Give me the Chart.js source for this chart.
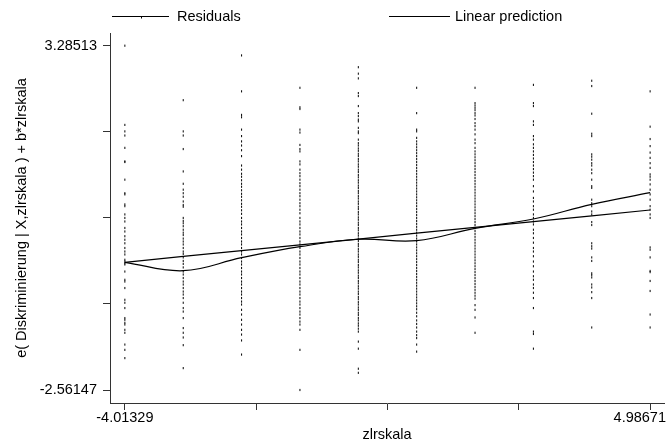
<!DOCTYPE html>
<html>
<head>
<meta charset="utf-8">
<script src="https://cdn.jsdelivr.net/npm/chart.js@4.4.1/dist/chart.umd.min.js"></script>
<style>
  html, body { margin: 0; padding: 0; background: #fff; }
  #wrap { width: 669px; height: 441px; }
</style>
</head>
<body>
<div id="wrap"><canvas id="c" width="669" height="441"></canvas></div>
<script>
// ---- data ----
const xCategories = [-4.01329, -3.01329, -2.01329, -1.01329, -0.01329, 0.98671, 1.98671, 2.98671, 3.98671, 4.98671];

const res1 = [3.28513, 1.94, 1.83, 1.76, 1.55, 1.32, 1.31, 1.01, 0.78, 0.76, 0.59, 0.56, 0.42, 0.36, 0.30, 0.19, 0.13, 0.05, -0.01, -0.07, -0.15, -0.21, -0.26, -0.35, -0.38, -0.41, -0.43, -0.55, -0.69, -0.72, -0.83, -1.03, -1.08, -1.17, -1.34, -1.37, -1.42, -1.45, -1.54, -1.59, -1.79, -1.88, -2.02];
const res2 = [2.36, 1.83, 1.76, 1.53, 1.15, 0.94, 0.84, 0.78, 0.72, 0.64, 0.58, 0.55, 0.36, 0.31, 0.27, 0.22, 0.16, 0.11, 0.07, 0.01, -0.04, -0.09, -0.15, -0.21, -0.25, -0.31, -0.37, -0.42, -0.48, -0.55, -0.60, -0.66, -0.72, -0.77, -0.83, -0.89, -0.94, -1.00, -1.08, -1.17, -1.23, -1.34, -1.51, -1.59, -1.67, -1.80, -2.19];
const res3 = [3.12, 2.51, 2.11, 2.07, 1.86, 1.75, 1.66, 1.59, 1.51, 1.41, 1.25, 1.18, 1.11, 1.06, 1.00, 0.94, 0.89, 0.83, 0.77, 0.72, 0.66, 0.60, 0.55, 0.49, 0.43, 0.36, 0.30, 0.25, 0.19, 0.13, 0.08, 0.02, -0.04, -0.09, -0.15, -0.21, -0.26, -0.32, -0.38, -0.43, -0.49, -0.55, -0.60, -0.66, -0.72, -0.77, -0.83, -0.89, -0.94, -1.00, -1.06, -1.11, -1.20, -1.28, -1.37, -1.45, -1.54, -1.62, -1.72, -1.96];
const res4 = [2.57, 2.24, 2.21, 1.86, 1.81, 1.60, 1.53, 1.49, 1.32, 1.27, 1.18, 1.12, 1.07, 1.01, 0.95, 0.90, 0.84, 0.78, 0.73, 0.67, 0.61, 0.56, 0.50, 0.44, 0.36, 0.30, 0.25, 0.19, 0.13, 0.08, 0.02, -0.04, -0.09, -0.15, -0.21, -0.26, -0.32, -0.38, -0.43, -0.49, -0.55, -0.60, -0.66, -0.72, -0.77, -0.83, -0.89, -0.94, -1.00, -1.06, -1.11, -1.17, -1.23, -1.28, -1.34, -1.40, -1.45, -1.54, -1.88, -2.56147];
const res5 = [2.92, 2.81, 2.73, 2.48, 2.43, 2.26, 2.14, 2.09, 2.03, 2.00, 1.89, 1.83, 1.80, 1.69, 1.63, 1.59, 1.54, 1.50, 1.45, 1.41, 1.36, 1.32, 1.27, 1.23, 1.18, 1.14, 1.09, 1.05, 1.00, 0.96, 0.91, 0.87, 0.82, 0.78, 0.73, 0.69, 0.64, 0.60, 0.55, 0.51, 0.46, 0.42, 0.37, 0.33, 0.28, 0.24, 0.19, 0.15, 0.10, 0.06, 0.01, -0.03, -0.08, -0.12, -0.17, -0.21, -0.26, -0.30, -0.35, -0.39, -0.44, -0.48, -0.53, -0.57, -0.62, -0.66, -0.71, -0.75, -0.80, -0.84, -0.89, -0.93, -0.98, -1.02, -1.07, -1.11, -1.16, -1.20, -1.25, -1.29, -1.34, -1.38, -1.43, -1.47, -1.52, -1.57, -1.74, -1.86, -2.20, -2.27];
const res6 = [2.57, 2.14, 1.86, 1.83, 1.72, 1.66, 1.61, 1.56, 1.51, 1.46, 1.41, 1.36, 1.31, 1.26, 1.21, 1.16, 1.11, 1.06, 1.01, 0.96, 0.91, 0.86, 0.81, 0.76, 0.71, 0.66, 0.61, 0.56, 0.51, 0.46, 0.41, 0.36, 0.31, 0.26, 0.21, 0.16, 0.11, 0.06, 0.01, -0.04, -0.09, -0.14, -0.19, -0.24, -0.29, -0.34, -0.39, -0.44, -0.49, -0.54, -0.59, -0.64, -0.69, -0.74, -0.79, -0.84, -0.89, -0.94, -0.99, -1.04, -1.09, -1.14, -1.19, -1.25, -1.31, -1.38, -1.44, -1.50, -1.57, -1.63, -1.68, -1.79, -1.91];
const res7 = [2.57, 2.31, 2.27, 2.23, 2.19, 2.14, 2.10, 2.04, 1.97, 1.92, 1.86, 1.78, 1.69, 1.63, 1.55, 1.49, 1.44, 1.39, 1.34, 1.29, 1.24, 1.19, 1.14, 1.09, 1.04, 0.99, 0.94, 0.89, 0.84, 0.79, 0.74, 0.69, 0.64, 0.59, 0.54, 0.49, 0.44, 0.39, 0.34, 0.29, 0.24, 0.19, 0.14, 0.09, 0.04, -0.01, -0.06, -0.11, -0.16, -0.21, -0.26, -0.31, -0.36, -0.41, -0.46, -0.51, -0.56, -0.61, -0.66, -0.71, -0.76, -0.81, -0.86, -0.91, -0.96, -1.01, -1.12, -1.20, -1.33, -1.59];
const res8 = [2.62, 2.31, 2.26, 2.00, 1.94, 1.75, 1.69, 1.61, 1.55, 1.49, 1.43, 1.37, 1.31, 1.25, 1.19, 1.13, 1.07, 1.01, 0.90, 0.81, 0.70, 0.64, 0.56, 0.50, 0.42, 0.36, 0.30, 0.25, 0.16, 0.10, 0.02, -0.06, -0.15, -0.21, -0.29, -0.38, -0.46, -0.55, -0.63, -0.69, -0.77, -0.83, -0.91, -1.00, -1.17, -1.57, -1.61, -1.86];
const res9 = [2.69, 2.60, 2.13, 1.79, 1.75, 1.44, 1.40, 1.35, 1.29, 1.25, 1.18, 1.12, 1.01, 0.90, 0.87, 0.67, 0.61, 0.56, 0.47, 0.42, 0.29, 0.24, -0.07, -0.12, -0.16, -0.31, -0.37, -0.58, -0.61, -0.65, -0.77, -0.82, -0.90, -1.00, -1.50];
const res10 = [2.51, 1.91, 1.70, 1.58, 1.47, 1.38, 1.29, 1.21, 1.10, 1.06, 1.01, 0.93, 0.84, 0.76, 0.67, 0.56, 0.50, 0.42, 0.36, -0.14, -0.18, -0.31, -0.54, -0.56, -0.71, -0.88, -1.28, -1.50];

const linearPrediction = [-0.393, -0.294, -0.196, -0.097, 0.002, 0.101, 0.199, 0.298, 0.396, 0.495];
const smoothFit = [-0.393, -0.536, -0.315, -0.128, -0.002, -0.026, 0.184, 0.342, 0.592, 0.789];

const yTicks = [3.28513, 1.82348, 0.36183, -1.09982, -2.56147];
const yTickLabels = ['3.28513', '', '', '', '-2.56147'];
const xTicks = [-4.01329, -1.76329, 0.48671, 2.73671, 4.98671];
const xTickLabels = ['-4.01329', '', '', '', '4.98671'];

const legendLabels = ['Residuals', 'Linear prediction'];
const xTitle = 'zlrskala';
const yTitle = 'e( Diskriminierung | X,zlrskala ) + b*zlrskala';

// ---- build datasets ----
const residualColumns = [res1, res2, res3, res4, res5, res6, res7, res8, res9, res10];
const residualPoints = [];
residualColumns.forEach((col, i) => col.forEach(v => residualPoints.push({ x: xCategories[i], y: v })));
const linePoints = xCategories.map((x, i) => ({ x: x, y: linearPrediction[i] }));
const smoothPoints = xCategories.map((x, i) => ({ x: x, y: smoothFit[i] }));

const FONT = '14.5px "Liberation Sans", Arial, Helvetica, sans-serif';

const textPlugin = {
  id: 'stataText',
  afterDraw(chart) {
    const ctx = chart.ctx;
    const xs = chart.scales.x;
    ctx.save();
    ctx.fillStyle = '#000';
    ctx.strokeStyle = '#000';
    ctx.font = FONT;
    // legend
    ctx.lineWidth = 1;
    ctx.beginPath();
    ctx.moveTo(112, 16.5); ctx.lineTo(169, 16.5);
    ctx.moveTo(389, 16.5); ctx.lineTo(450, 16.5);
    ctx.stroke();
    ctx.fillRect(141, 16.5, 1, 2);
    ctx.textBaseline = 'middle';
    ctx.textAlign = 'left';
    ctx.fillText(legendLabels[0], 177, 17);
    ctx.fillText(legendLabels[1], 455, 17);
    // x tick labels
    xTicks.forEach((v, i) => {
      const t = xTickLabels[i];
      if (!t) return;
      const px = xs.getPixelForValue(v);
      const w = ctx.measureText(t).width;
      let left = px - w / 2;
      if (left + w > 666) left = 666 - w;
      ctx.textAlign = 'left';
      ctx.fillText(t, left, 418);
    });
    // x title
    ctx.textAlign = 'center';
    ctx.fillText(xTitle, (chart.chartArea.left + chart.chartArea.right) / 2, 435);
    // y title
    ctx.translate(22, (chart.chartArea.top + chart.chartArea.bottom) / 2);
    ctx.rotate(-Math.PI / 2);
    ctx.fillText(yTitle, 0, 0);
    ctx.restore();
  }
};

new Chart(document.getElementById('c'), {
  type: 'scatter',
  data: {
    datasets: [
      {
        type: 'line',
        label: legendLabels[1],
        data: linePoints,
        borderColor: '#000',
        borderWidth: 1.2,
        pointRadius: 0,
        tension: 0,
        fill: false,
        order: 0
      },
      {
        type: 'line',
        label: 'smooth',
        data: smoothPoints,
        borderColor: '#000',
        borderWidth: 1.2,
        pointRadius: 0,
        tension: 0.4,
        fill: false,
        order: 1
      },
      {
        type: 'scatter',
        label: legendLabels[0],
        data: residualPoints,
        pointStyle: 'line',
        rotation: 90,
        pointRadius: 1.1,
        borderWidth: 1,
        borderColor: '#000',
        backgroundColor: '#000',
        order: 2
      }
    ]
  },
  options: {
    responsive: false,
    animation: false,
    devicePixelRatio: 1,
    events: [],
    layout: { padding: { top: 33, left: 0, right: 0, bottom: 0 } },
    plugins: {
      legend: { display: false },
      tooltip: { enabled: false },
      title: { display: false }
    },
    scales: {
      x: {
        type: 'linear',
        min: -4.26801,
        max: 5.2245,
        afterBuildTicks(scale) { scale.ticks = xTicks.map(v => ({ value: v })); },
        afterFit(scale) { scale.height = 38; scale.paddingLeft = 0; scale.paddingRight = 0; },
        ticks: { display: false },
        grid: { display: true, drawOnChartArea: false, drawTicks: true, tickLength: 7, color: '#333', lineWidth: 1 },
        border: { display: true, color: '#333', width: 1 }
      },
      y: {
        type: 'linear',
        min: -2.78222,
        max: 3.50079,
        afterBuildTicks(scale) { scale.ticks = yTicks.map(v => ({ value: v })); },
        afterFit(scale) { scale.width = 110; scale.paddingTop = 0; scale.paddingBottom = 0; },
        ticks: {
          padding: 6,
          color: '#000',
          font: { family: '"Liberation Sans", Arial, Helvetica, sans-serif', size: 14.5 },
          callback(value, index) { return yTickLabels[index]; }
        },
        grid: { display: true, drawOnChartArea: false, drawTicks: true, tickLength: 7, color: '#333', lineWidth: 1 },
        border: { display: true, color: '#333', width: 1 }
      }
    }
  },
  plugins: [textPlugin]
});
</script>
</body>
</html>
